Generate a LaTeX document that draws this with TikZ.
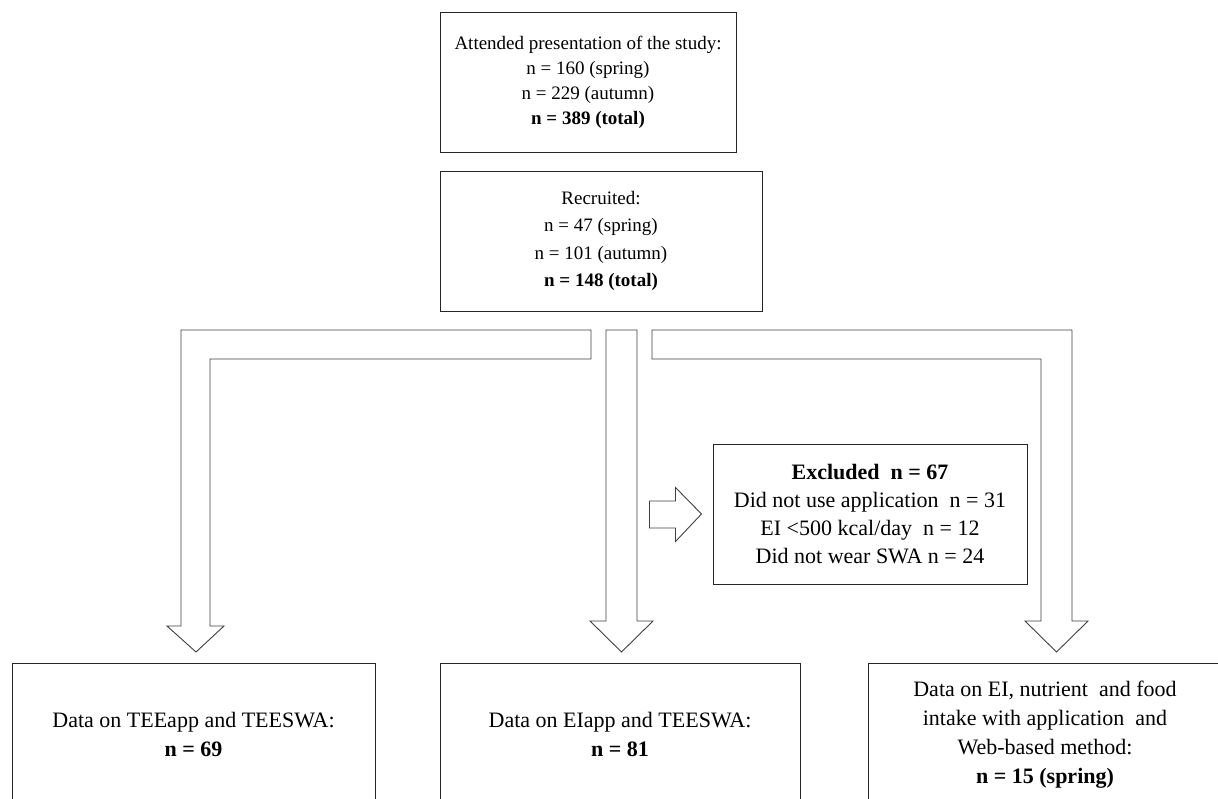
\documentclass[tikz,border=0pt]{standalone}
\usepackage{fontspec}
\setmainfont{Liberation Serif}
\usetikzlibrary{calc}

\tikzset{
    stagebox/.style={draw=black!85, line width=1pt, align=center, inner sep=0pt,
        font=\fontsize{19}{25}\selectfont},
    exclbox/.style={draw=black!85, line width=1pt, align=center, inner sep=0pt,
        minimum width=314, minimum height=140, font=\fontsize{22}{28}\selectfont},
    databox/.style={draw=black!85, line width=1pt, align=center, inner sep=0pt,
        anchor=north, minimum height=142, font=\fontsize{22}{29}\selectfont},
    blockarrow/.style={draw=black!75, line width=0.9pt, line join=miter, fill=white},
}

\begin{document}
\begin{tikzpicture}[x=1pt, y=-1pt]
        \useasboundingbox (0,0) rectangle (1218,798);
        \clip (0,0) rectangle (1218,798);

        % boxes
        \node[stagebox, minimum width=296, minimum height=140] (attend) at (588,82)
            {Attended presentation of the study:\\ n = 160 (spring)\\ n = 229 (autumn)\\ \textbf{n = 389 (total)}};
        \node[stagebox, minimum width=322, minimum height=140, font=\fontsize{19}{27.5}\selectfont] (recruit) at (601,241)
            {Recruited:\\ n = 47 (spring)\\ n = 101 (autumn)\\ \textbf{n = 148 (total)}};
        \node[exclbox] (excl) at (870,514)
            {\textbf{Excluded\ \ n = 67}\\ Did not use application\ \ n = 31\\ EI <500 kcal/day\ \ n = 12\\ Did not wear SWA n = 24};

        \node[databox, minimum width=363] (teeapp) at (193.5,663)
            {Data on TEEapp and TEESWA:\\ \textbf{n = 69}};
        \node[databox, minimum width=360] (eiapp) at (620,663)
            {Data on EIapp and TEESWA:\\ \textbf{n = 81}};
        \node[databox, minimum width=354] (nutrient) at (1045,663)
            {Data on EI, nutrient\ \ and food\\ intake with application\ \ and\\ Web-based method:\\ \textbf{n = 15 (spring)}};

        % block arrows
        \coordinate (tipA) at ($(teeapp.north)+(2.5,-11)$);
        \coordinate (tipB) at ($(eiapp.north)+(1.5,-11)$);
        \coordinate (tipC) at ($(nutrient.north)+(11.5,-11)$);
        \coordinate (tipD) at ($(excl.west)+(-11,0)$);

        \draw[blockarrow] (tipA) -- ++(28,-26) -- ++(-14,0) -- ++(0,-267) -- ++(381,0)
            -- ++(0,-29) -- ++(-410,0) -- ++(0,296) -- ++(-14,0) -- cycle;
        \draw[blockarrow] (tipB) -- ++(31.5,-31) -- ++(-16,0) -- ++(0,-291) -- ++(-31,0)
            -- ++(0,291) -- ++(-16,0) -- cycle;
        \draw[blockarrow] (tipC) -- ++(31.5,-31) -- ++(-16,0) -- ++(0,-291) -- ++(-420,0)
            -- ++(0,29) -- ++(389,0) -- ++(0,262) -- ++(-16,0) -- cycle;
        \draw[blockarrow] (tipD) -- ++(-26,-26.5) -- ++(0,13.5) -- ++(-26,0) -- ++(0,27)
            -- ++(26,0) -- ++(0,13.5) -- cycle;
\end{tikzpicture}
\end{document}
